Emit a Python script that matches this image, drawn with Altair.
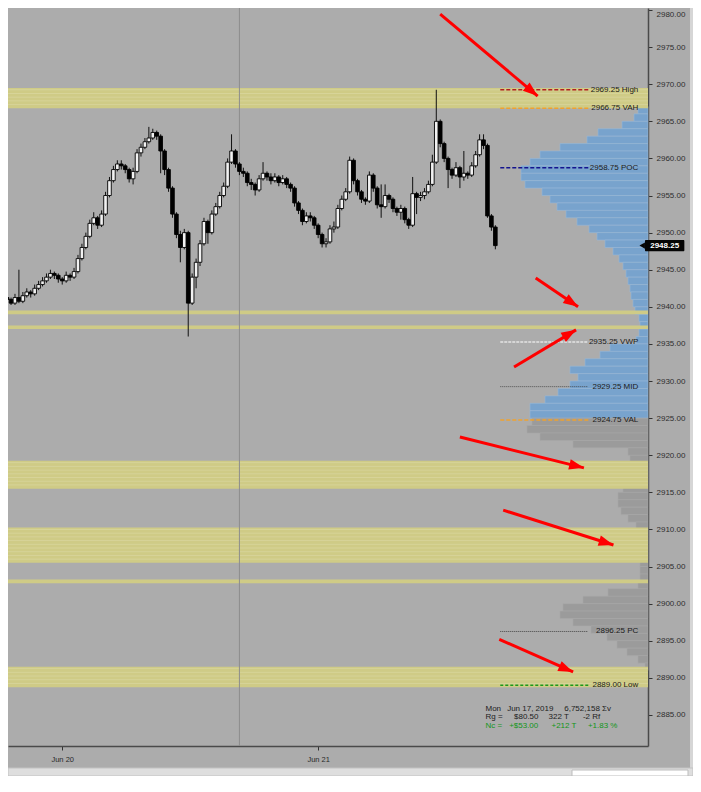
import math
import altair as alt
import pandas as pd

# ---------------- candle data (bar index, prices) ----------------
FIRST_OPEN = 2941.25
CLOSE = [
    2941.0, 2940.5, 2941.25, 2940.75, 2941.5, 2942.0, 2941.75, 2942.5, 2943.0, 2943.5,
    2944.0, 2944.5, 2944.25, 2943.75, 2943.5, 2944.25, 2944.0, 2944.75, 2946.5, 2948.0,
    2949.5, 2951.25, 2952.0, 2951.0, 2952.5, 2955.0, 2957.0, 2958.5, 2959.25, 2959.0,
    2958.5, 2957.25, 2958.25, 2960.75, 2961.5, 2962.25, 2962.75, 2963.5, 2963.0, 2961.0,
    2958.5, 2956.0, 2952.5, 2949.75, 2948.0, 2950.0, 2940.5, 2944.0, 2946.0, 2948.5,
    2951.5, 2950.0, 2952.5, 2953.5, 2955.0, 2956.25, 2959.5, 2961.0, 2959.25, 2958.25,
    2958.0, 2956.75, 2956.5, 2955.75, 2957.25, 2958.0, 2957.5, 2957.0, 2957.5, 2956.75,
    2957.25, 2956.5, 2956.0, 2954.0, 2953.0, 2951.5, 2952.25, 2952.0, 2951.0, 2949.75,
    2948.5, 2948.75, 2950.5, 2950.75, 2953.25, 2954.5, 2955.5, 2959.75, 2957.0, 2955.5,
    2954.5, 2954.25, 2957.75, 2956.0, 2953.75, 2953.5, 2955.0, 2954.5, 2953.25, 2952.75,
    2953.25, 2951.75, 2951.0, 2955.25, 2954.75, 2955.0, 2955.5, 2956.5, 2959.5, 2965.0,
    2962.0, 2960.0, 2958.5, 2957.75, 2958.75, 2957.5, 2958.0, 2957.75, 2959.0, 2960.5,
    2962.5, 2961.75, 2952.25, 2950.75, 2948.25,
]
HIGH = [
    2941.75, 2941.25, 2941.75, 2945.0, 2942.0, 2942.5, 2942.25, 2943.0, 2943.5, 2944.0,
    2944.5, 2945.0, 2944.75, 2944.5, 2944.0, 2944.75, 2944.5, 2945.25, 2947.0, 2948.5,
    2950.0, 2951.75, 2952.75, 2952.25, 2953.0, 2955.5, 2957.5, 2959.0, 2959.75, 2959.75,
    2959.25, 2958.75, 2958.75, 2961.25, 2962.0, 2962.75, 2964.25, 2964.0, 2963.75, 2963.25,
    2961.25, 2958.75, 2956.25, 2952.75, 2950.25, 2950.5, 2950.25, 2944.5, 2946.5, 2949.0,
    2952.0, 2951.75, 2953.0, 2954.0, 2955.5, 2956.75, 2960.0, 2963.25, 2961.25, 2959.5,
    2958.75, 2958.25, 2957.25, 2956.75, 2957.75, 2959.5, 2958.25, 2958.0, 2958.0, 2957.75,
    2957.75, 2957.5, 2956.75, 2956.25, 2954.25, 2953.25, 2952.75, 2952.75, 2952.25, 2951.25,
    2950.0, 2949.25, 2951.0, 2951.5, 2953.75, 2955.0, 2956.0, 2960.25, 2960.0, 2957.25,
    2955.75, 2954.75, 2958.25, 2958.0, 2956.25, 2956.5, 2956.5, 2955.25, 2954.75, 2953.5,
    2953.75, 2953.5, 2952.0, 2957.5, 2955.5, 2955.5, 2956.0, 2957.0, 2960.5, 2969.25,
    2965.25, 2962.25, 2960.25, 2958.75, 2959.5, 2959.0, 2961.0, 2958.25, 2959.5, 2961.0,
    2963.25, 2963.25, 2962.0, 2952.5, 2951.0,
]
LOW = [
    2940.5, 2940.25, 2940.25, 2940.5, 2940.5, 2941.25, 2941.25, 2941.5, 2942.25, 2942.75,
    2943.25, 2943.75, 2943.75, 2943.25, 2943.0, 2943.25, 2943.5, 2943.75, 2944.5, 2946.25,
    2947.75, 2949.25, 2951.0, 2950.5, 2950.75, 2952.25, 2954.75, 2956.75, 2958.25, 2958.5,
    2958.0, 2956.75, 2956.5, 2958.0, 2960.25, 2961.25, 2962.0, 2962.5, 2962.5, 2958.0,
    2957.75, 2955.5, 2952.0, 2949.25, 2946.0, 2947.75, 2936.0, 2940.25, 2942.5, 2945.5,
    2948.25, 2948.5, 2949.75, 2952.25, 2953.25, 2954.75, 2956.0, 2959.25, 2958.75, 2957.75,
    2957.5, 2956.25, 2955.75, 2955.0, 2955.5, 2957.0, 2957.0, 2956.5, 2956.75, 2956.25,
    2956.5, 2956.0, 2955.5, 2953.5, 2952.5, 2951.0, 2951.25, 2951.5, 2950.5, 2949.25,
    2948.0, 2948.0, 2948.5, 2950.0, 2950.5, 2953.0, 2954.25, 2955.25, 2956.5, 2955.0,
    2954.0, 2953.75, 2954.0, 2955.5, 2953.25, 2952.0, 2953.25, 2954.0, 2952.75, 2952.25,
    2951.75, 2951.25, 2950.5, 2950.75, 2952.5, 2954.25, 2954.5, 2955.25, 2956.25, 2959.25,
    2961.5, 2959.5, 2956.0, 2957.25, 2957.5, 2956.0, 2957.0, 2957.25, 2957.5, 2958.75,
    2960.25, 2961.25, 2952.0, 2950.25, 2947.75,
]

# ---------------- axes ----------------
DAY_TICK_BARS = [14, 79]
DAY_TICK_LABELS = ["Jun 20", "Jun 21"]
SESSION_BREAK_BAR = [59]
PRICE_TICKS = [2885, 2890, 2895, 2900, 2905, 2910, 2915, 2920, 2925, 2930,
               2935, 2940, 2945, 2950, 2955, 2960, 2965, 2970, 2975, 2980]

# ---------------- volume profile (row low edge, volume) ----------------
PROFILE_LOW = [2966, 2965, 2964, 2963, 2962, 2961, 2960, 2959, 2958, 2957,
               2956, 2955, 2954, 2953, 2952, 2951, 2950, 2949, 2948, 2947,
               2946, 2945, 2944, 2943, 2942, 2941, 2940, 2939, 2938, 2937,
               2936, 2935, 2934, 2933, 2932, 2931, 2930, 2929, 2928, 2927,
               2926, 2925, 2924, 2923, 2922, 2921, 2920, 2919, 2918, 2917,
               2916, 2915, 2914, 2913, 2912, 2911, 2910, 2909, 2908, 2907,
               2906, 2905, 2904, 2903, 2902, 2901, 2900, 2899, 2898, 2897,
               2896, 2895, 2894, 2893, 2892, 2891]
PROFILE_VOL = [10, 14, 26, 50, 61, 88, 108, 118, 127, 127,
               123, 106, 98, 91, 82, 71, 59, 51, 43, 35,
               29, 25, 22, 20, 18, 17, 15, 13, 9, 8,
               9, 12, 38, 48, 63, 78, 70, 78, 90, 103,
               118, 118, 116, 121, 108, 75, 20, 18, 18, 20,
               22, 25, 30, 30, 27, 20, 12, 10, 9, 8,
               8, 8, 8, 8, 10, 40, 65, 85, 88, 75,
               57, 41, 31, 21, 10, 3]
VAL_PRICE = 2924.75
VAH_PRICE = 2966.75

# ---------------- yellow zones ----------------
BAND_LOW = [2966.75, 2939.0, 2937.0, 2915.5, 2905.5, 2902.75, 2888.75]
BAND_HIGH = [2969.5, 2939.5, 2937.5, 2919.25, 2910.25, 2903.25, 2891.5]

# ---------------- profile levels ----------------
LEVEL_PRICE = [2969.25, 2966.75, 2958.75, 2935.25, 2929.25, 2924.75, 2896.25, 2889.00]
LEVEL_NAME = ["High", "VAH", "POC", "VWP", "MID", "VAL", "PC", "Low"]
LEVEL_COLOR = ["#b3201e", "#f0a22e", "#14148f", "#e4e4e4", "#3c3c3c", "#f0a22e", "#2c2c2c", "#1c9a1c"]
LEVEL_WIDTH = [1.5, 1.5, 1.5, 1.5, 0.8, 1.5, 0.8, 1.5]
LEVEL_DASH = [[4, 2], [4, 2], [4, 2], [3, 1], [1, 1], [4, 2], [1, 1], [3, 2]]
LEVEL_START_BAR = 125.25
LEVEL_END_BAR = 147.6
LEVEL_LABEL_BAR = 160.3

LAST_PRICE = 2948.25

# ---------------- info block ----------------
INFO_TEXT = ["Mon", "Jun 17, 2019", "6,752,158 \u03a3v",
             "Rg =", "$80.50", "322 T", "-2 Rf",
             "Nc =", "+$53.00", "+212 T", "+1.83 %"]
INFO_BAR = [121.5, 127.0, 141.5, 121.5, 128.75, 137.5, 146.25, 121.5, 127.5, 138.25, 147.5]
INFO_PRICE = [2885.8, 2885.8, 2885.8, 2884.72, 2884.72, 2884.72, 2884.72,
              2883.55, 2883.55, 2883.55, 2883.55]
INFO_COLOR = ["#1c1c1c"] * 7 + ["#12961a"] * 4

# ---------------- red annotation arrows (tail -> tip) ----------------
ARROW_X0 = [110.0, 134.25, 128.75, 115.0, 126.0, 125.0]
ARROW_Y0 = [2979.45, 2943.9, 2931.9, 2922.45, 2912.6, 2895.2]
ARROW_X1 = [134.75, 145.0, 144.5, 146.5, 154.0, 143.75]
ARROW_Y1 = [2968.4, 2940.0, 2936.9, 2918.3, 2907.9, 2890.8]

# ---------------- layout ----------------
W, H = 640, 738
PAD_RIGHT, PAD_BOTTOM = 45, 30
X_DOMAIN = [1.5, 161.5]
Y_DOMAIN = [2880.82, 2980.27]
BG = "#acacac"
FONT = "Liberation Sans"

xs = alt.Scale(domain=X_DOMAIN, nice=False, zero=False)
ys = alt.Scale(domain=Y_DOMAIN, nice=False, zero=False)

label_expr = " : ".join(
    f"datum.value == {v} ? '{t}'" for v, t in zip(DAY_TICK_BARS, DAY_TICK_LABELS)
) + " : ''"

x_axis = alt.Axis(orient="bottom", values=DAY_TICK_BARS, labelExpr=label_expr, title=None,
                  grid=False, tickSize=4, tickColor="#333333", domainColor="#4a4a4a",
                  domainWidth=1.5, labelFont=FONT, labelFontSize=7.5, labelColor="#2a2a2a",
                  labelPadding=5, labelFlush=False)
y_axis = alt.Axis(orient="right", values=PRICE_TICKS, format=".2f", title=None, grid=False,
                  tickSize=4, tickColor="#333333", domainColor="#4a4a4a", domainWidth=1.5,
                  labelFont=FONT, labelFontSize=8, labelColor="#2e2e2e", labelPadding=4,
                  labelOverlap=False, labelFlush=3)


def X(field):
    return alt.X(f"{field}:Q", scale=xs, axis=x_axis)


def Y(field):
    return alt.Y(f"{field}:Q", scale=ys, axis=y_axis)


# ---------------- data frames ----------------
opens = [FIRST_OPEN] + CLOSE[:-1]
candles = pd.DataFrame({"bar": list(range(len(CLOSE))), "open": opens,
                        "high": HIGH, "low": LOW, "close": CLOSE})

prof = pd.DataFrame({"low": PROFILE_LOW, "vol": PROFILE_VOL})
prof["high"] = prof["low"] + 1
prof["zero"] = 0
in_va = (prof["low"] >= VAL_PRICE - 0.25) & (prof["low"] < VAH_PRICE)
prof["fill"] = ["#78a3cd" if v else "#9b9b9b" for v in in_va]
prof["stroke"] = ["#98b9d8" if v else "#a7a7a7" for v in in_va]

bands = pd.DataFrame({"lo": BAND_LOW, "hi": BAND_HIGH})
stripe_rows = []
for lo, hi in zip(BAND_LOW, BAND_HIGH):
    p = lo + 0.5
    while p < hi - 0.1:
        stripe_rows.append({"p": p})
        p += 0.5
stripes = pd.DataFrame(stripe_rows)

levels = pd.DataFrame({
    "price": LEVEL_PRICE, "name": LEVEL_NAME, "color": LEVEL_COLOR, "w": LEVEL_WIDTH,
    "x0": LEVEL_START_BAR, "x1": LEVEL_END_BAR, "lx": LEVEL_LABEL_BAR,
})
levels["label"] = [f"{p:.2f} {n}" for p, n in zip(LEVEL_PRICE, LEVEL_NAME)]

info = pd.DataFrame({"t": INFO_TEXT, "x": INFO_BAR, "y": INFO_PRICE, "c": INFO_COLOR})

px_bar = W / (X_DOMAIN[1] - X_DOMAIN[0])
px_pt = H / (Y_DOMAIN[1] - Y_DOMAIN[0])
arrows = pd.DataFrame({"x0": ARROW_X0, "y0": ARROW_Y0, "x1": ARROW_X1, "y1": ARROW_Y1})
arrows["ang"] = [
    math.degrees(math.atan2((b - a) * px_bar, (d - c) * px_pt)) % 360
    for a, b, c, d in zip(ARROW_X0, ARROW_X1, ARROW_Y0, ARROW_Y1)
]

last = pd.DataFrame({"p": [LAST_PRICE], "lo": [LAST_PRICE - 0.75], "hi": [LAST_PRICE + 0.75],
                     "x0": [162.0], "x1": [172.0], "xm": [167.0], "xp": [161.3],
                     "t": [f"{LAST_PRICE:.2f}"]})
dummy = pd.DataFrame({"d": [0]})
brk = pd.DataFrame({"bar": SESSION_BREAK_BAR})

# ---------------- layers ----------------
profile_layer = alt.Chart(prof).mark_rect(strokeWidth=0.6).encode(
    x=alt.X("vol:Q", scale=alt.Scale(domain=[0, W], reverse=True, nice=False, zero=False), axis=None),
    x2="zero:Q",
    y=Y("low"), y2="high:Q",
    fill=alt.Fill("fill:N", scale=None),
    stroke=alt.Stroke("stroke:N", scale=None),
)

band_layer = alt.Chart(bands).mark_rect(fill="#cfcb86").encode(
    x=alt.value(0), x2=alt.value(W), y=Y("lo"), y2="hi:Q")
stripe_layer = alt.Chart(stripes).mark_rule(color="#dad7a0", strokeWidth=0.7).encode(
    x=alt.value(0), x2=alt.value(W), y=Y("p"))

break_layer = alt.Chart(brk).mark_rule(color="#8c8c8c", strokeWidth=1).encode(
    x=X("bar"), y=alt.value(0), y2=alt.value(H))

wick_layer = alt.Chart(candles).mark_rule(color="#111111", strokeWidth=1, clip=True).encode(
    x=X("bar"), y=Y("low"), y2="high:Q")
body_layer = alt.Chart(candles).mark_bar(size=3.6, stroke="#000000", strokeWidth=0.9, clip=True).encode(
    x=X("bar"), y=Y("open"), y2="close:Q",
    fill=alt.condition("datum.close >= datum.open", alt.value("#f2f2f2"), alt.value("#000000")),
)

level_lines = alt.Chart(levels).mark_rule().encode(
    x=X("x0"), x2="x1:Q", y=Y("price"),
    color=alt.Color("color:N", scale=None),
    strokeWidth=alt.StrokeWidth("w:Q", scale=None),
    strokeDash=alt.StrokeDash("name:N", scale=alt.Scale(domain=LEVEL_NAME, range=LEVEL_DASH), legend=None),
)
level_text = alt.Chart(levels).mark_text(align="right", baseline="middle", font=FONT, fontSize=8,
                                         color="#1a1a1a").encode(
    x=X("lx"), y=Y("price"), text="label:N")

info_text = alt.Chart(info).mark_text(align="left", baseline="middle", font=FONT, fontSize=8).encode(
    x=X("x"), y=Y("y"), text="t:N", color=alt.Color("c:N", scale=None))

arrow_lines = alt.Chart(arrows).mark_rule(color="#ff0000", strokeWidth=3, strokeCap="butt").encode(
    x=X("x0"), x2="x1:Q", y=Y("y0"), y2="y1:Q")
arrow_heads = alt.Chart(arrows).mark_point(shape="M0,0L0.75,2.1L-0.75,2.1Z", filled=True, size=200,
                                           color="#ff0000", opacity=1).encode(
    x=X("x1"), y=Y("y1"), angle=alt.Angle("ang:Q", scale=None))

last_box = alt.Chart(last).mark_rect(fill="#050505", cornerRadius=1).encode(
    x=X("x0"), x2="x1:Q", y=Y("lo"), y2="hi:Q")
last_ptr = alt.Chart(last).mark_point(shape="triangle-left", filled=True, size=40, color="#050505",
                                      opacity=1).encode(x=X("xp"), y=Y("p"))
last_txt = alt.Chart(last).mark_text(font=FONT, fontSize=8, fontWeight="bold", color="#ffffff",
                                     baseline="middle").encode(x=X("xm"), y=Y("p"), text="t:N")

edge_light = alt.Chart(dummy).mark_rect(fill="#d6d6d6").encode(
    x=alt.value(682), x2=alt.value(685), y=alt.value(0), y2=alt.value(760))
bottom_strip = alt.Chart(dummy).mark_rect(fill="#dedede", stroke="#c2c2c2", strokeWidth=1).encode(
    x=alt.value(0), x2=alt.value(685), y=alt.value(760), y2=alt.value(768))
thumb = alt.Chart(dummy).mark_rect(fill="#ffffff", stroke="#bdbdbd", strokeWidth=1).encode(
    x=alt.value(564), x2=alt.value(680), y=alt.value(762), y2=alt.value(768))

main = alt.layer(
    band_layer, stripe_layer, break_layer, wick_layer, body_layer,
    level_lines, level_text, info_text, arrow_lines, arrow_heads,
    last_box, last_ptr, last_txt, edge_light, bottom_strip, thumb,
)

chart = alt.layer(profile_layer, main).resolve_scale(x="independent").properties(
    width=W, height=H,
    autosize=alt.AutoSizeParams(type="none"),
    padding={"left": 0, "top": 0, "right": PAD_RIGHT, "bottom": PAD_BOTTOM},
    background=BG,
).configure_view(stroke=None, fill=BG)

chart.save("out.html", embed_options={"renderer": "svg", "actions": False})
